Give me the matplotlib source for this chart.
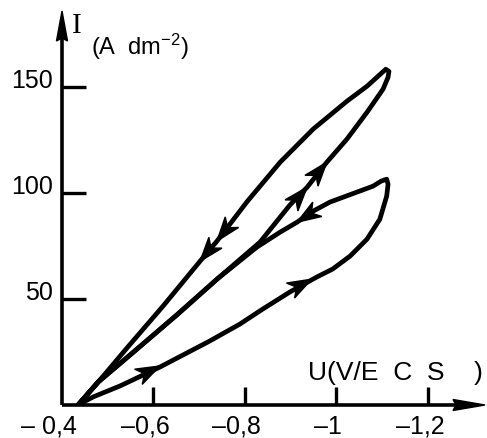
import numpy as np
import matplotlib
matplotlib.use('Agg')
import matplotlib.pyplot as plt
from matplotlib.patches import Polygon
from matplotlib.transforms import offset_copy

# ---------------- data (U in V/ECS, I in A dm^-2) ----------------
big_fwd_U = [-0.435, -0.479, -0.564, -0.651, -0.739, -0.833, -0.898, -0.936, -0.979, -1.023, -1.067, -1.102, -1.113, -1.115]
big_fwd_I = [0.0, 10.8, 26.4, 42.5, 59.4, 76.9, 94.3, 102.8, 114.6, 125.5, 138.2, 149.1, 154.7, 157.5]
big_ret_U = [-1.115, -1.108, -1.067, -1.023, -0.949, -0.877, -0.804, -0.739, -0.702, -0.621, -0.540, -0.494, -0.435]
big_ret_I = [157.5, 158.5, 150.5, 143.4, 130.2, 114.6, 95.8, 77.4, 67.9, 46.7, 26.4, 14.6, 0.0]

small_fwd_U = [-0.435, -0.468, -0.527, -0.614, -0.723, -0.789, -0.839, -0.898, -0.957, -0.992, -1.030, -1.067, -1.095, -1.110, -1.113, -1.110]
small_fwd_I = [0.0, 3.8, 9.0, 17.9, 30.2, 38.2, 45.3, 53.3, 60.4, 64.2, 70.3, 78.3, 87.7, 98.6, 104.2, 106.6]
small_ret_U = [-1.110, -1.098, -1.080, -1.045, -0.986, -0.949, -0.914, -0.877, -0.826, -0.739, -0.651, -0.564, -0.479, -0.435]
small_ret_I = [106.6, 105.7, 103.3, 100.5, 95.8, 91.5, 86.3, 81.6, 74.5, 59.4, 42.5, 26.4, 10.8, 0.0]

# arrow tips on each branch
big_fwd_arrow_U = [-0.979, -0.936]
big_fwd_arrow_I = [114.6, 102.8]
big_ret_arrow_U = [-0.739, -0.702]
big_ret_arrow_I = [77.4, 67.9]
small_fwd_arrow_U = [-0.946, -0.614]
small_fwd_arrow_I = [59.4, 18.4]
small_ret_arrow_U = [-0.914]
small_ret_arrow_I = [86.3]

x_ticks = [-0.4, -0.6, -0.8, -1.0, -1.2]
x_tick_labels = ['– 0,4', '–0,6', '–0,8', '–1', '–1,2']
y_ticks = [50, 100, 150]
y_tick_labels = ['50', '100', '150']

plt.rcParams['mathtext.default'] = 'regular'
SANS = 'Liberation Sans'

W, H = 487, 439
fig = plt.figure(figsize=(W / 100, H / 100), dpi=100)
ax = fig.add_axes([62 / W, 33 / H, 423 / W, 394 / H])
ax.set_xlim(-0.4, -1.325)
ax.set_ylim(0, 186)
for s in ax.spines.values():
    s.set_visible(False)
ax.set_xticks(x_ticks[1:])
ax.set_yticks(y_ticks)
ax.set_xticklabels([])
ax.set_yticklabels([])
ax.tick_params(axis='x', direction='in', length=13, width=2.4, color='k')
ax.tick_params(axis='y', direction='in', length=17, width=2.4, color='k')
ax.patch.set_visible(False)

LW = 3.4
kw = dict(color='k', lw=LW, solid_capstyle='round', solid_joinstyle='round')
ax.plot(big_fwd_U + big_ret_U, big_fwd_I + big_ret_I, **kw)
ax.plot(small_fwd_U + small_ret_U, small_fwd_I + small_ret_I, **kw)


def arrowhead(U, I, tu, ti, L=24, Wd=8.5, notch=7):
    pts = ax.transData.transform(np.column_stack([U, I]))
    tip = ax.transData.transform((tu, ti))
    d = np.linalg.norm(pts - tip, axis=1)
    i = int(np.argmin(d))
    i0 = max(i - 1, 0)
    i1 = min(i + 1, len(pts) - 1)
    v = pts[i1] - pts[i0]
    v = v / np.linalg.norm(v)
    n = np.array([-v[1], v[0]])
    back = tip - v * L
    poly = np.array([tip, back + n * Wd, tip - v * (L - notch), back - n * Wd])
    data = ax.transData.inverted().transform(poly)
    ax.add_patch(Polygon(data, closed=True, fc='k', ec='k', lw=1, joinstyle='miter'))


for tu, ti in zip(big_fwd_arrow_U, big_fwd_arrow_I):
    arrowhead(big_fwd_U, big_fwd_I, tu, ti)
for tu, ti in zip(big_ret_arrow_U, big_ret_arrow_I):
    arrowhead(big_ret_U, big_ret_I, tu, ti)
for tu, ti in zip(small_fwd_arrow_U, small_fwd_arrow_I):
    arrowhead(small_fwd_U, small_fwd_I, tu, ti)
for tu, ti in zip(small_ret_arrow_U, small_ret_arrow_I):
    arrowhead(small_ret_U, small_ret_I, tu, ti)

# axes lines with arrowheads (axes coords)
ax.plot([0, 0], [0, 0.97], transform=ax.transAxes, color='k', lw=2.6, clip_on=False, solid_capstyle='butt')
ax.plot([0, 0.97], [0, 0], transform=ax.transAxes, color='k', lw=2.6, clip_on=False, solid_capstyle='butt')


def axis_arrow(tip_disp, v, L, Wd):
    tip = np.array(tip_disp, float)
    v = np.array(v, float)
    n = np.array([-v[1], v[0]])
    back = tip - v * L
    poly = np.array([tip, back + n * Wd, tip - v * (L - 3), back - n * Wd])
    data = ax.transAxes.inverted().transform(poly)
    ax.add_patch(Polygon(data, closed=True, fc='k', ec='k', lw=1, transform=ax.transAxes, clip_on=False))


ax0 = ax.transAxes.transform((0, 0))
ax1 = ax.transAxes.transform((1, 1))
axis_arrow((ax0[0], ax1[1]), (0, 1), 30, 5.5)
axis_arrow((ax1[0], ax0[1]), (1, 0), 32, 5.5)

# tick labels
for t, lab in zip(x_ticks, x_tick_labels):
    dx = -13 if t == -0.4 else -8
    tr = offset_copy(ax.transData, fig=fig, x=dx, y=-9, units='dots')
    ax.text(t, 0, lab, transform=tr, ha='center', va='top', family=SANS, fontsize=18, clip_on=False)
for t, lab in zip(y_ticks, y_tick_labels):
    tr = offset_copy(ax.transData, fig=fig, x=-9, y=0, units='dots')
    ax.text(-0.4, t, lab, transform=tr, ha='right', va='baseline', family=SANS, fontsize=18, clip_on=False)

# axis labels
fig.text(72 / W, 1 - 33 / H, 'I', family='Liberation Serif', fontsize=21, va='baseline', ha='left')
fig.text(91 / W, 1 - 55 / H, '(A  dm$^{-2}$)', family=SANS, fontsize=17, va='baseline', ha='left')
fig.text(483 / W, 1 - 380 / H, 'U(V/E  C  S    )', family=SANS, fontsize=19, va='baseline', ha='right')

fig.savefig('out.png', dpi=100)
